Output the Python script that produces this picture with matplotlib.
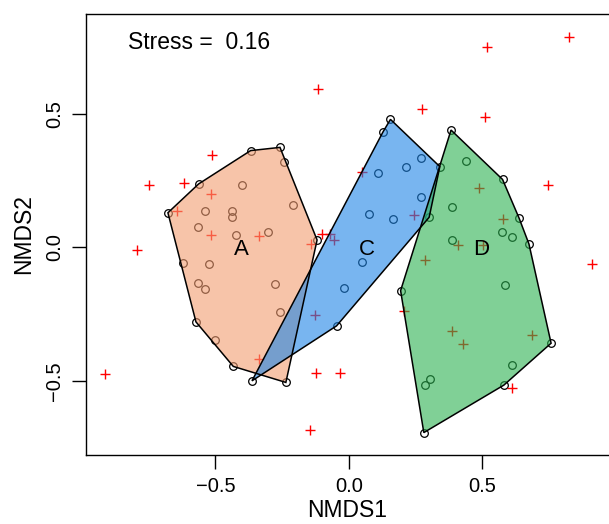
import numpy as np
import matplotlib
matplotlib.use("Agg")
import matplotlib.pyplot as plt

plt.rcParams['font.family'] = ['Liberation Sans', 'DejaVu Sans']

# site scores, by group
a_x = [-0.678, -0.563, -0.368, -0.258, -0.243, -0.119, -0.236, -0.433, -0.503, -0.573, -0.621,
       -0.401, -0.209, -0.540, -0.438, -0.438, -0.566, -0.421, -0.303, -0.525, -0.566, -0.540,
       -0.276, -0.258]
a_y = [0.130, 0.238, 0.363, 0.375, 0.320, 0.028, -0.506, -0.446, -0.346, -0.279, -0.059,
       0.233, 0.158, 0.136, 0.136, 0.113, 0.078, 0.046, 0.058, -0.062, -0.134, -0.157,
       -0.137, -0.242]

c_x = [-0.363, -0.046, 0.301, 0.341, 0.156, 0.128, 0.110, 0.216, 0.272, 0.271, 0.076,
       0.166, 0.051, -0.018]
c_y = [-0.500, -0.294, 0.113, 0.303, 0.480, 0.433, 0.280, 0.300, 0.334, 0.188, 0.124,
       0.107, -0.053, -0.153]

d_x = [0.383, 0.576, 0.638, 0.675, 0.758, 0.581, 0.281, 0.194, 0.438, 0.385, 0.573,
       0.612, 0.385, 0.585, 0.613, 0.303, 0.285]
d_y = [0.440, 0.255, 0.110, 0.013, -0.359, -0.516, -0.694, -0.162, 0.324, 0.151, 0.057,
       0.040, 0.027, -0.142, -0.441, -0.494, -0.516]

# species scores
sp_x = [-0.513, -0.749, -0.618, -0.516, -0.645, -0.516, -0.336, -0.795, -0.101, -0.071,
        -0.055, -0.143, -0.126, -0.338, -0.915, -0.124, -0.034, 0.050, 0.243, 0.206,
        -0.115, 0.275, 0.519, 0.825, 0.512, 0.746, 0.910, 0.486, 0.576, 0.408,
        0.503, 0.285, 0.386, 0.426, 0.685, 0.613, -0.146]
sp_y = [0.345, 0.235, 0.243, 0.200, 0.136, 0.048, 0.043, -0.009, 0.051, 0.051,
        0.028, 0.013, -0.252, -0.419, -0.474, -0.469, -0.469, 0.284, 0.121, -0.238,
        0.593, 0.518, 0.752, 0.790, 0.490, 0.235, -0.063, 0.224, 0.106, 0.008,
        0.008, -0.047, -0.312, -0.363, -0.328, -0.526, -0.684]

groups = ["A", "C", "D"]
label_x = [-0.404, 0.067, 0.497]
label_y = [-0.006, -0.006, -0.006]
stress = 0.16


def hull(x, y):
    pts = sorted(set(zip(x, y)))

    def cross(o, a, b):
        return (a[0] - o[0]) * (b[1] - o[1]) - (a[1] - o[1]) * (b[0] - o[0])

    lower, upper = [], []
    for p in pts:
        while len(lower) >= 2 and cross(lower[-2], lower[-1], p) <= 0:
            lower.pop()
        lower.append(p)
    for p in reversed(pts):
        while len(upper) >= 2 and cross(upper[-2], upper[-1], p) <= 0:
            upper.pop()
        upper.append(p)
    return np.array(lower[:-1] + upper[:-1])


W, H = 609, 524
fig = plt.figure(figsize=(W / 100, H / 100), dpi=100)
ax = fig.add_axes([86 / W, (H - 455) / H, 1 - 86 / W, (455 - 14) / H])

all_x = a_x + c_x + d_x
all_y = a_y + c_y + d_y
ax.plot(all_x, all_y, 'o', mfc='none', mec='black', ms=5.5, mew=0.9, zorder=2)
ax.plot(sp_x, sp_y, '+', color='red', ms=7, mew=1.0, zorder=2)

fills = ["#f39d71", "#1e85e6", "#2bb150"]
for (gx, gy), col in zip([(a_x, a_y), (c_x, c_y), (d_x, d_y)], fills):
    h = hull(gx, gy)
    ax.fill(h[:, 0], h[:, 1], facecolor=col, alpha=0.6, edgecolor='none', zorder=3)
    ax.fill(h[:, 0], h[:, 1], facecolor='none', edgecolor='black', lw=1.1, zorder=4)

for g, lx, ly in zip(groups, label_x, label_y):
    ax.text(lx, ly, g, fontsize=16, ha='center', va='center', zorder=5)

ax.text(-0.828, 0.77, f"Stress =  {stress}", fontsize=16.5, ha='left', va='center')

ax.set_xlim(-0.985, 0.975)
ax.set_ylim(-0.778, 0.875)
ax.set_xticks([-0.5, 0.0, 0.5])
ax.set_yticks([-0.5, 0.0, 0.5])
ax.set_xticklabels(["\u22120.5", "0.0", "0.5"])
ax.set_yticklabels(["\u22120.5", "0.0", "0.5"], rotation=90, va='center')
ax.tick_params(length=10, width=1, labelsize=14.5, pad=6)
ax.spines['right'].set_visible(False)
for s in ['left', 'bottom', 'top']:
    ax.spines[s].set_linewidth(1.0)
ax.set_xlabel("NMDS1", fontsize=16.5, labelpad=2)
ax.set_ylabel("NMDS2", fontsize=16.5, labelpad=7)

fig.savefig("out.png", dpi=100)
